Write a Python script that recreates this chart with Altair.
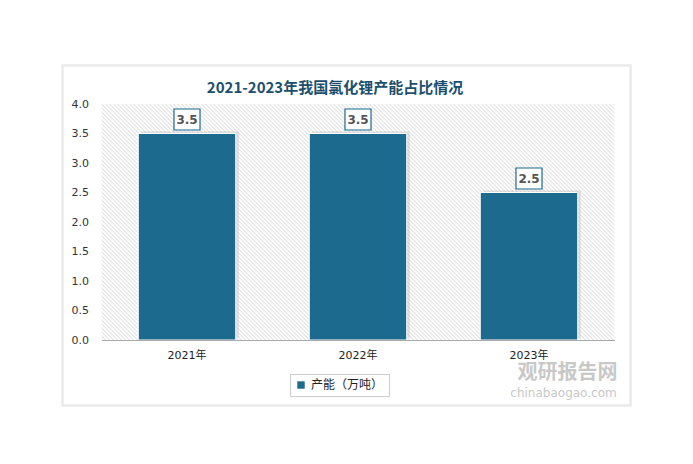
import altair as alt
import pandas as pd

years = ["2021年", "2022年", "2023年"]
values = [3.5, 3.5, 2.5]
series_name = "产能（万吨）"
title_text = "2021-2023年我国氯化锂产能占比情况"
y_ticks = [0, 0.5, 1.0, 1.5, 2.0, 2.5, 3.0, 3.5, 4.0]

W, H = 513, 236
BAR = "#1c6a8e"
FONT = "DejaVu Sans, Noto Sans CJK SC"

df = pd.DataFrame({"year": years, "value": values, "series": [series_name] * len(years)})
one = pd.DataFrame({"k": [0]})

xenc = alt.X("year:N", sort=years, title=None,
             scale=alt.Scale(paddingInner=0.43, paddingOuter=0.215),
             axis=alt.Axis(labelAngle=0, ticks=False, domainColor="#aaaaaa",
                           labelPadding=9, labelFontSize=11, labelColor="#222222",
                           labelFont=FONT, zindex=1))
yenc = alt.Y("value:Q", title=None, scale=alt.Scale(domain=[0, 4]),
             axis=alt.Axis(values=y_ticks, format=".1f", ticks=False, domain=False,
                           grid=False, labelPadding=13, labelFontSize=11,
                           labelColor="#333333", labelFont=FONT, zindex=1))

card_shadow = alt.Chart(one).mark_rect(fill="#efefef", stroke=None).encode(
    x=alt.value(-40.5), x2=alt.value(530.5), y=alt.value(-40), y2=alt.value(303))
card = alt.Chart(one).mark_rect(fill="white", stroke="#e2e2e2", strokeWidth=1).encode(
    x=alt.value(-38.5), x2=alt.value(528.5), y=alt.value(-38), y2=alt.value(301))

# diagonal hatching of plot background (decoration)
hatch = (
    alt.Chart(pd.DataFrame({"i": list(range(0, 190))}))
    .transform_calculate(xa="datum.i*4 - 236", xb="datum.i*4")
    .mark_rule(color="#d2d2d2", strokeWidth=1, clip=True)
    .encode(x=alt.X("xa:Q", scale=None, axis=None), x2="xb:Q",
            y=alt.value(0), y2=alt.value(H))
)

shadow = alt.Chart(df).mark_bar(color="#bdbdbd", opacity=0.45, xOffset=3, yOffset=-2).encode(
    x=xenc, y=yenc)
bars = alt.Chart(df).mark_bar(stroke="white", strokeWidth=1).encode(
    x=xenc, y=yenc,
    color=alt.Color("series:N", scale=alt.Scale(range=[BAR]),
                    legend=alt.Legend(orient="none", legendX=188.5, legendY=270, title=None,
                                      symbolType="square", symbolSize=55,
                                      symbolStrokeWidth=0, strokeColor="#cccccc",
                                      padding=5, labelFontSize=12, labelColor="#222222",
                                      labelFont="Noto Sans CJK SC", fillColor="white")))

boxes = alt.Chart(df).mark_point(
    shape="M-1.24,-1L1.24,-1L1.24,1L-1.24,1Z", size=441, filled=True,
    fill="white", stroke=BAR, strokeWidth=1.2, opacity=1, yOffset=-14).encode(
    x=xenc, y=yenc)
labels = alt.Chart(df).mark_text(
    font="DejaVu Sans", fontWeight="bold", fontSize=12, color="#555555",
    yOffset=-14, baseline="middle").encode(
    x=xenc, y=yenc, text=alt.Text("value:Q", format=".1f"))

data_layer = alt.layer(shadow, bars, boxes, labels)

title = alt.Chart(one).mark_text(
    text=title_text, font="Noto Sans CJK SC", fontWeight="bold", fontSize=15,
    color="#1c4f6e", baseline="middle").encode(x=alt.value(233.5), y=alt.value(-16))

wm1 = alt.Chart(one).mark_text(
    text="观研报告网", font="Noto Sans CJK SC", fontWeight="bold", fontSize=20,
    color="#c8c8c8", baseline="middle").encode(x=alt.value(466), y=alt.value(269))
wm2 = alt.Chart(one).mark_text(
    text="chinabaogao.com", font="DejaVu Sans", fontSize=12,
    color="#c8c8c8", baseline="middle").encode(x=alt.value(462), y=alt.value(289))

chart = (
    alt.layer(card_shadow, card, hatch, data_layer, title, wm1, wm2)
    .resolve_scale(x="independent")
    .properties(width=W, height=H,
                autosize=alt.AutoSizeParams(type="none"),
                padding={"left": 93.5, "top": 96, "right": 70, "bottom": 100})
    .configure_view(stroke=None)
    .configure(background="white")
)

chart.save("out.html", embed_options={"renderer": "svg", "actions": False})
